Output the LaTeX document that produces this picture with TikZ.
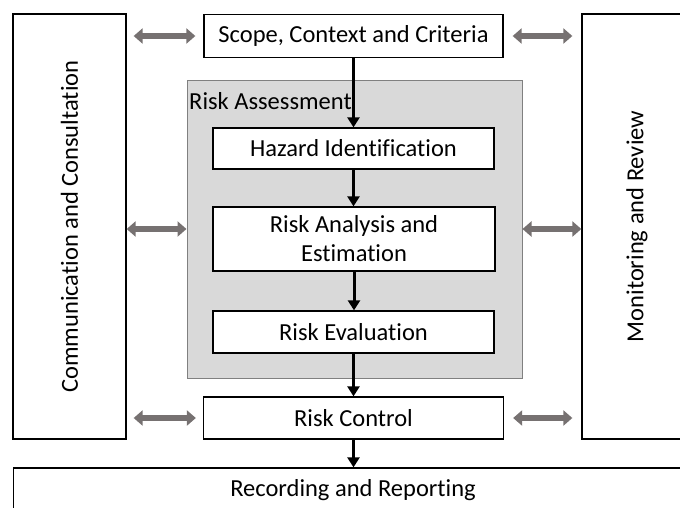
\documentclass[tikz,border=0pt]{standalone}
\usepackage{fontspec}
\setmainfont{Carlito}[Ligatures=NoCommon]
\usetikzlibrary{arrows.meta}
\definecolor{arrgray}{RGB}{118,113,113}
\tikzset{
    box/.style={draw=black, line width=1.3pt, fill=white, inner sep=0pt,
        font=\fontsize{24.5}{29}\selectfont},
    assessbox/.style={draw=black!50, line width=1pt, fill=black!15, inner sep=0pt},
    boxtext/.style={inner sep=0pt, font=\fontsize{24.5}{29}\selectfont},
    flowarr/.style={line width=3pt, -{Triangle[width=12pt,length=10pt]}},
    grayarr/.style={draw=arrgray, line width=6pt,
        {Triangle[width=15pt,length=9pt]}-{Triangle[width=15pt,length=9pt]}},
}
\begin{document}
\begin{tikzpicture}[x=1pt,y=-1pt]
        \useasboundingbox (0,0) rectangle (680,507);
        %风险评估灰框
        \node[assessbox, minimum width=335pt, minimum height=298pt] (assess) at (354.5,229) {};
        \node[boxtext, anchor=west] (assesstxt) at (189,101) {Risk Assessment};
        %左右两侧竖框
        \node[box, minimum width=113pt, minimum height=425pt] (comm) at (69.5,226.5) {};
        \node[boxtext, rotate=90] (commtxt) at (comm) {Communication and Consultation};
        \node[box, minimum width=110pt, minimum height=425pt] (mon) at (637,226.5) {};
        \node[boxtext, rotate=90] (montxt) at (mon) {Monitoring and Review};
        %流程各步
        \node[box, minimum width=299pt, minimum height=43pt] (scope) at (353.5,36) {Scope, Context and Criteria};
        \node[box, minimum width=281pt, minimum height=41pt] (hazard) at (353.5,148.5) {Hazard Identification};
        \node[box, minimum width=282pt, minimum height=64pt, align=center] (analysis) at (354,239) {Risk Analysis and\\Estimation};
        \node[box, minimum width=281pt, minimum height=42pt] (eval) at (353.5,332) {Risk Evaluation};
        \node[box, minimum width=300pt, minimum height=42pt] (control) at (353.5,418) {Risk Control};
        \node[box, minimum width=679pt, minimum height=44pt] (record) at (353,490) {Recording and Reporting};
        %黑色箭头
        \foreach \a/\b in {scope/hazard, hazard/analysis, analysis/eval, eval/control, control/record}
            \draw[flowarr] (\a.south) -- (\a.south |- \b.north);
        %灰色双向箭头
        \draw[grayarr, shorten <=7pt, shorten >=8pt] (comm.east |- scope) -- (scope.west);
        \draw[grayarr, shorten <=9pt, shorten >=9pt] (scope.east) -- (mon.west |- scope);
        \draw[grayarr] (comm.east |- assess) -- (assess.west);
        \draw[grayarr] (assess.east) -- (mon.west |- assess);
        \draw[grayarr, shorten <=7pt, shorten >=7pt] (comm.east |- control) -- (control.west);
        \draw[grayarr, shorten <=9pt, shorten >=9pt] (control.east) -- (mon.west |- control);
\end{tikzpicture}
\end{document}
